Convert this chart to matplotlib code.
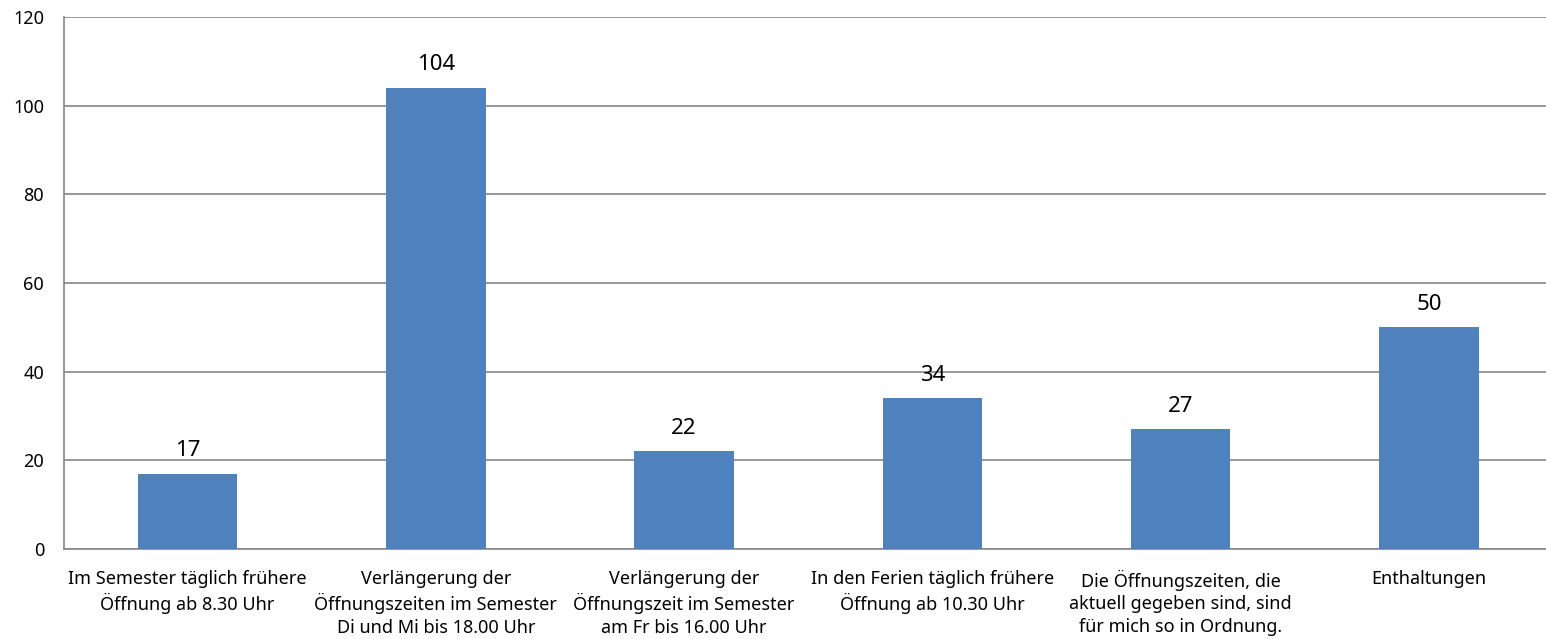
import matplotlib.pyplot as plt
import numpy as np

plt.rcParams['font.family'] = ['Noto Sans', 'DejaVu Sans']

categories = [
    'Im Semester täglich frühere\nÖffnung ab 8.30 Uhr',
    'Verlängerung der\nÖffnungszeiten im Semester\nDi und Mi bis 18.00 Uhr',
    'Verlängerung der\nÖffnungszeit im Semester\nam Fr bis 16.00 Uhr',
    'In den Ferien täglich frühere\nÖffnung ab 10.30 Uhr',
    'Die Öffnungszeiten, die\naktuell gegeben sind, sind\nfür mich so in Ordnung.',
    'Enthaltungen',
]
values = [17, 104, 22, 34, 27, 50]
yticks = [0, 20, 40, 60, 80, 100, 120]

fig = plt.figure(figsize=(15.46, 6.39), dpi=100)
# plot area runs a little past the right edge (chart was cropped)
ax = fig.add_axes([63.5/1546, 1-549/639, (1553-63.5)/1546, (549-17)/639])

x = np.arange(len(values))
bars = ax.bar(x, values, width=0.4, color='#4F81BD', zorder=3)
for xi, v in zip(x, values):
    ax.text(xi, v + 4, str(v), ha='center', va='baseline', fontsize=16)

ax.set_xlim(-0.5, len(values) - 0.5)
ax.set_ylim(0, 120)
ax.set_yticks(yticks)
ax.set_xticks(x)
ax.set_xticklabels(categories, fontsize=13, linespacing=1.32)
ax.tick_params(axis='y', labelsize=13, length=0, pad=14)
ax.tick_params(axis='x', length=0, pad=15)
ax.grid(axis='y', color='#868686', linewidth=1.2, zorder=0)
for s in ['top', 'right']:
    ax.spines[s].set_visible(False)
for s in ['left', 'bottom']:
    ax.spines[s].set_color('#868686')
    ax.spines[s].set_linewidth(1.2)

plt.savefig('out.png', dpi=100)
